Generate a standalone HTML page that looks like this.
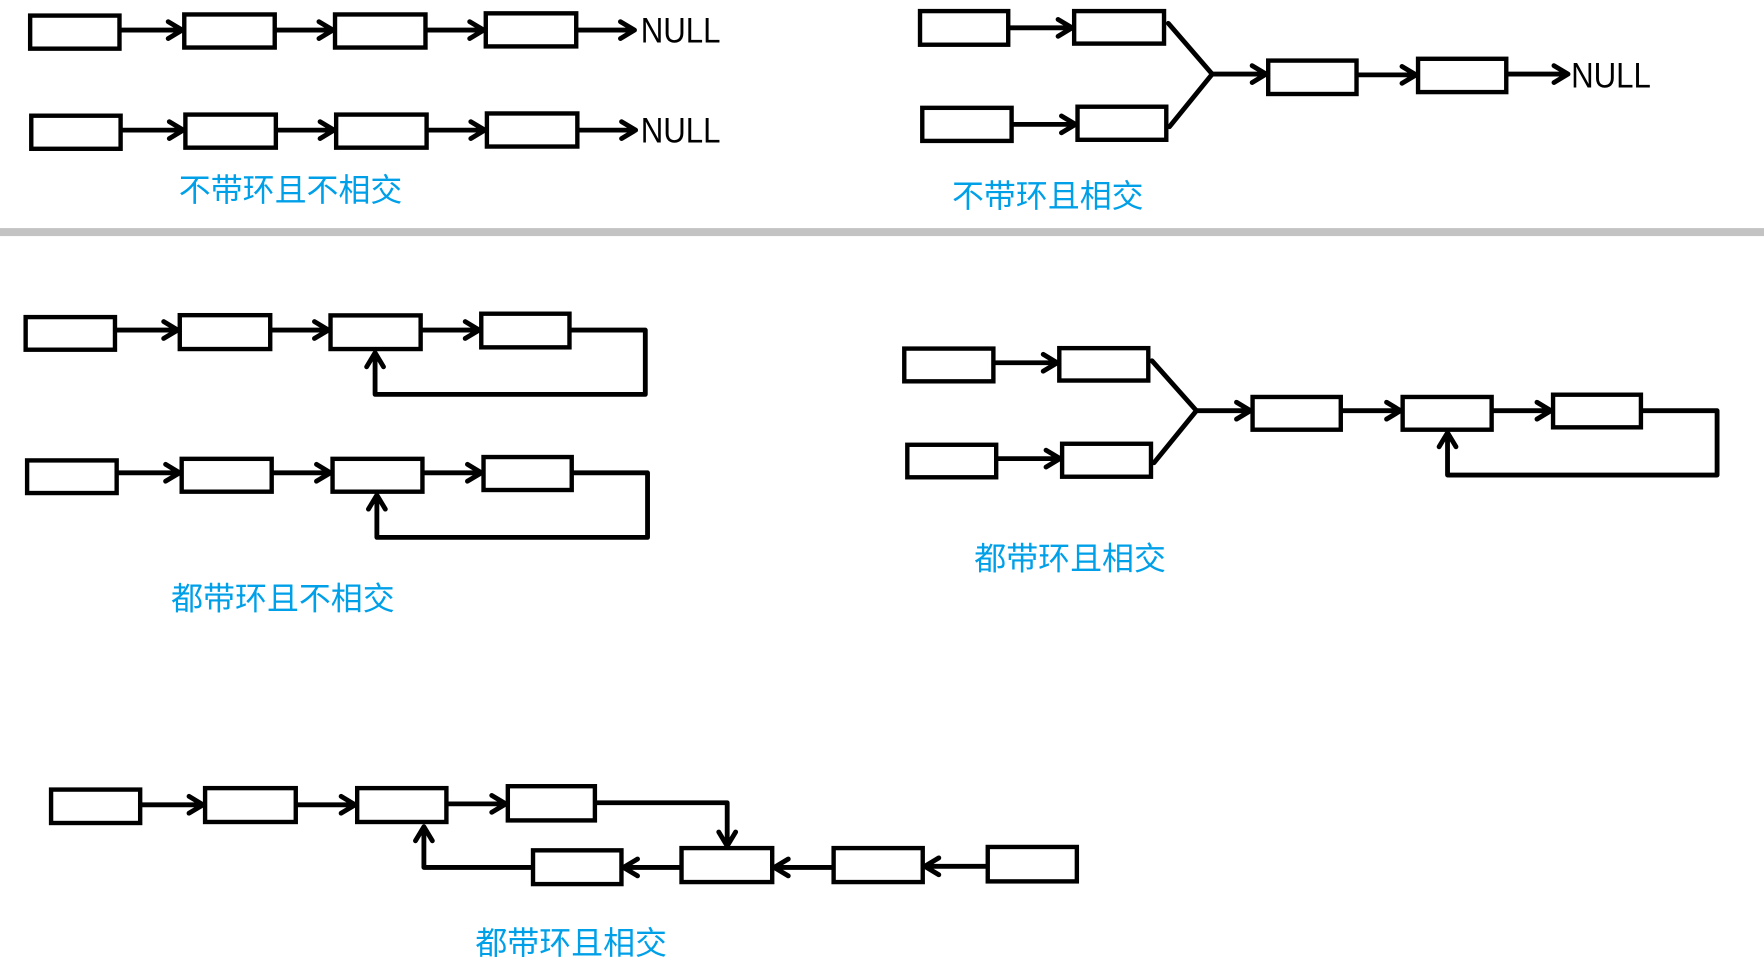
<!DOCTYPE html>
<html>
<head>
<meta charset="utf-8">
<style>
html,body{margin:0;padding:0;background:#fff;}
svg{display:block;}
.b{fill:#fff;stroke:#000;stroke-width:3.9;}
.l{fill:none;stroke:#000;stroke-width:4.3;stroke-linecap:round;stroke-linejoin:round;}
.lab{font-family:"Liberation Sans","Noto Sans CJK SC",sans-serif;font-size:28.4px;fill:#00a0e9;}
.nul{font-family:"Liberation Sans",sans-serif;font-size:31px;fill:#000;}
</style>
</head>
<body>
<svg width="1764" height="980" viewBox="0 0 1568 871" xmlns="http://www.w3.org/2000/svg">
<rect x="0" y="0" width="1568" height="871" fill="#fff"/>
<!-- gray divider -->
<rect x="0" y="202.7" width="1568" height="7.1" fill="#c3c3c3"/>

<!-- ===== Section 1 ===== -->
<rect class="b" x="26.8" y="13.8" width="79.4" height="29.4"/>
<rect class="b" x="163.8" y="12.8" width="80.4" height="29.4"/>
<rect class="b" x="297.8" y="12.8" width="80.4" height="29.4"/>
<rect class="b" x="431.8" y="11.8" width="80.4" height="29.4"/>
<path class="l" d="M108 26.7H162 M149.5 19.2L162 26.7L149.5 34.2"/>
<path class="l" d="M246 26.7H296 M283.5 19.2L296 26.7L283.5 34.2"/>
<path class="l" d="M380 26.7H430 M417.5 19.2L430 26.7L417.5 34.2"/>
<path class="l" d="M514 26.7H564 M551.5 19.2L564 26.7L551.5 34.2"/>
<text class="nul" x="569.5" y="37.9" textLength="71" lengthAdjust="spacingAndGlyphs">NULL</text>

<rect class="b" x="27.8" y="102.8" width="79.4" height="29.4"/>
<rect class="b" x="164.8" y="101.8" width="80.4" height="29.4"/>
<rect class="b" x="298.8" y="101.8" width="80.4" height="29.4"/>
<rect class="b" x="432.8" y="100.8" width="80.4" height="29.4"/>
<path class="l" d="M109 115.6H163 M150.5 108.1L163 115.6L150.5 123.1"/>
<path class="l" d="M247 115.6H297 M284.5 108.1L297 115.6L284.5 123.1"/>
<path class="l" d="M381 115.6H431 M418.5 108.1L431 115.6L418.5 123.1"/>
<path class="l" d="M515 115.6H565 M552.5 108.1L565 115.6L552.5 123.1"/>
<text class="nul" x="569.5" y="126.8" textLength="71" lengthAdjust="spacingAndGlyphs">NULL</text>

<text class="lab" x="158.9" y="178.5">不带环且不相交</text>

<!-- ===== Section 2 ===== -->
<rect class="b" x="817.8" y="9.8" width="78.4" height="29.9"/>
<rect class="b" x="954.8" y="9.8" width="79.9" height="28.9"/>
<rect class="b" x="819.8" y="95.8" width="79.4" height="29.4"/>
<rect class="b" x="957.8" y="94.8" width="78.9" height="29.4"/>
<path class="l" d="M898 24.7H953 M940.5 17.2L953 24.7L940.5 32.2"/>
<path class="l" d="M901 110.5H956 M943.5 103L956 110.5L943.5 118"/>
<path class="l" d="M1038.5 20.7L1077.5 65.8L1039.5 112.6"/>
<path class="l" d="M1077.5 65.8H1125.5 M1113 58.3L1125.5 65.8L1113 73.3"/>
<rect class="b" x="1127.3" y="53.8" width="78.5" height="29.7"/>
<path class="l" d="M1207.6 66.5H1258.7 M1246.2 59L1258.7 66.5L1246.2 74"/>
<rect class="b" x="1260.5" y="52.2" width="78.4" height="29.6"/>
<path class="l" d="M1340.7 65.8H1393.8 M1381.3 58.3L1393.8 65.8L1381.3 73.3"/>
<text class="nul" x="1396.5" y="77.6" textLength="71" lengthAdjust="spacingAndGlyphs">NULL</text>

<text class="lab" x="846.2" y="184">不带环且相交</text>

<!-- ===== Section 3 ===== -->
<rect class="b" x="22.8" y="281.8" width="79.4" height="29"/>
<rect class="b" x="159.8" y="280.1" width="80.4" height="30.1"/>
<rect class="b" x="293.8" y="280.3" width="80.1" height="29.9"/>
<rect class="b" x="427.8" y="278.8" width="78.4" height="29.9"/>
<path class="l" d="M104 293.3H158 M145.5 285.8L158 293.3L145.5 300.8"/>
<path class="l" d="M242 293.3H292 M279.5 285.8L292 293.3L279.5 300.8"/>
<path class="l" d="M375.7 293.3H426 M413.5 285.8L426 293.3L413.5 300.8"/>
<path class="l" d="M508 293.3H573.6V350.5H333.4V313.5 M325.9 326L333.4 313.5L340.9 326"/>

<rect class="b" x="24.1" y="409.2" width="79.6" height="29"/>
<rect class="b" x="161.5" y="407.8" width="80" height="29.2"/>
<rect class="b" x="295.6" y="407.8" width="79.9" height="29.2"/>
<rect class="b" x="429.8" y="406.2" width="78.4" height="29.3"/>
<path class="l" d="M105.5 420.2H159.7 M147.2 412.7L159.7 420.2L147.2 427.7"/>
<path class="l" d="M243.3 420.2H293.8 M281.3 412.7L293.8 420.2L281.3 427.7"/>
<path class="l" d="M377.3 420.2H428 M415.5 412.7L428 420.2L415.5 427.7"/>
<path class="l" d="M510 420.2H575.6V477.6H335V440 M327.5 452.5L335 440L342.5 452.5"/>

<text class="lab" x="152.1" y="541.5">都带环且不相交</text>

<!-- ===== Section 4 ===== -->
<rect class="b" x="803.8" y="309.8" width="79.2" height="29.1"/>
<rect class="b" x="941.6" y="309.4" width="79.1" height="28.8"/>
<rect class="b" x="806.5" y="395.3" width="79" height="28.9"/>
<rect class="b" x="944.1" y="394.4" width="79" height="29.3"/>
<path class="l" d="M884.8 322.4H939.8 M927.3 314.9L939.8 322.4L927.3 329.9"/>
<path class="l" d="M887.3 407.6H942.3 M929.8 400.1L942.3 407.6L929.8 415.1"/>
<path class="l" d="M1024 320.6L1063.5 365L1025.8 411.3"/>
<path class="l" d="M1063.5 365H1111.6 M1099.1 357.5L1111.6 365L1099.1 372.5"/>
<rect class="b" x="1113.4" y="352.8" width="78.4" height="29.1"/>
<path class="l" d="M1193.6 365H1245 M1232.5 357.5L1245 365L1232.5 372.5"/>
<rect class="b" x="1246.8" y="352.8" width="79.1" height="29.1"/>
<path class="l" d="M1327.7 365H1378.7 M1366.2 357.5L1378.7 365L1366.2 372.5"/>
<rect class="b" x="1380.5" y="350.8" width="78.1" height="29"/>
<path class="l" d="M1460.4 365H1526.3V422.2H1286.7V384.6 M1279.2 397.1L1286.7 384.6L1294.2 397.1"/>

<text class="lab" x="866" y="506">都带环且相交</text>

<!-- ===== Section 5 ===== -->
<rect class="b" x="45.4" y="701.8" width="79.2" height="29.7"/>
<rect class="b" x="182.3" y="700.5" width="80.6" height="30.1"/>
<rect class="b" x="317.5" y="700.5" width="79.3" height="30.1"/>
<rect class="b" x="451.4" y="698.8" width="77.4" height="30.4"/>
<path class="l" d="M126.4 715.3H180.5 M168 707.8L180.5 715.3L168 722.8"/>
<path class="l" d="M264.7 715.3H315.7 M303.2 707.8L315.7 715.3L303.2 722.8"/>
<path class="l" d="M398.6 714.5H449.6 M437.1 707L449.6 714.5L437.1 722"/>
<path class="l" d="M530.6 713.5H646.4V752 M638.9 739.5L646.4 752L653.9 739.5"/>
<rect class="b" x="605.8" y="753.8" width="80.6" height="30.2"/>
<rect class="b" x="473.8" y="755.8" width="78.6" height="30"/>
<rect class="b" x="741" y="753.8" width="79.2" height="30.2"/>
<rect class="b" x="878" y="752.8" width="79.2" height="30.6"/>
<path class="l" d="M604 771H554.2 M566.7 763.5L554.2 771L566.7 778.5"/>
<path class="l" d="M739.2 771H688.2 M700.7 763.5L688.2 771L700.7 778.5"/>
<path class="l" d="M876.2 770H822 M834.5 762.5L822 770L834.5 777.5"/>
<path class="l" d="M472 771H376.8V734.8 M369.3 747.3L376.8 734.8L384.3 747.3"/>

<text class="lab" x="422.5" y="848">都带环且相交</text>
</svg>
</body>
</html>
